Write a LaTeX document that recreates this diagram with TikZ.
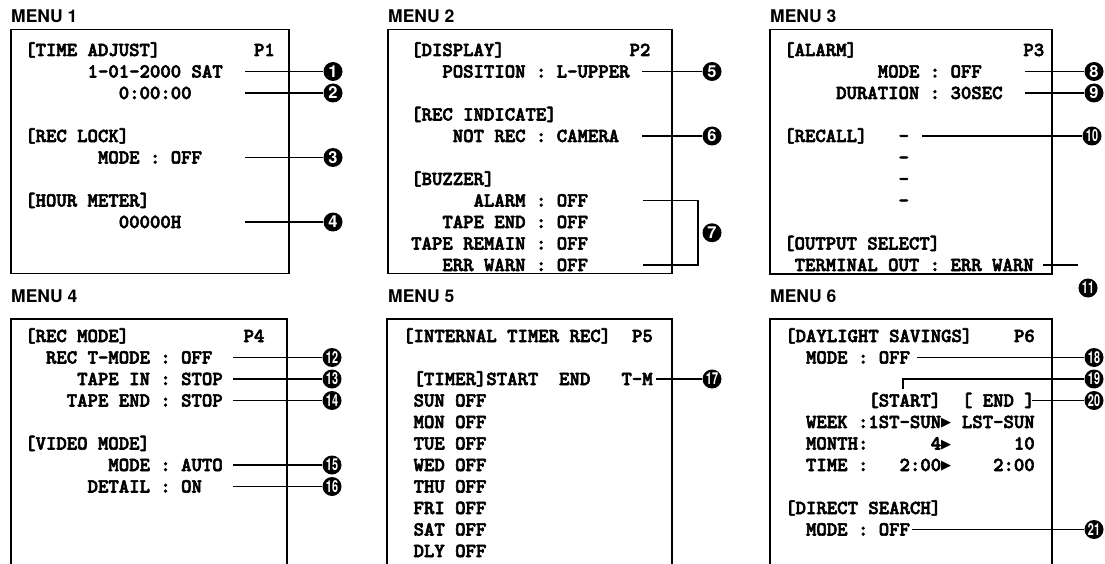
\documentclass[tikz,border=0pt]{standalone}
\usepackage{fontspec}
\newfontfamily\titlefont{TeX Gyre Heros}
\newfontfamily\symfont{DejaVu Sans}
\newfontfamily\osdface{lmmonolt10-bold.otf}[FakeBold=3]
\newcommand\osdfont{\osdface\fontsize{19.8}{20}\selectfont}
\newcommand\tri{\makebox[0.525em][l]{\raisebox{1.5pt}{\symfont\fontsize{13}{13}\selectfont ▶}}}
\newcommand\two[1]{\scalebox{0.66}[1]{#1}}
\tikzset{
  menutitle/.style={anchor=west,inner sep=0pt,font=\titlefont\bfseries\fontsize{17.5}{18}\selectfont},
  screen/.style={draw=black,line width=1.6pt},
  osd/.style={anchor=west,inner sep=0pt,text height=12pt,text depth=0pt,font=\osdfont},
  leader/.style={draw=black,line width=1.1pt},
  num/.style={circle,fill=black,text=white,inner sep=0pt,minimum size=19pt,font=\titlefont\bfseries\fontsize{16.5}{16.5}\selectfont}
}

\begin{document}
\begin{tikzpicture}[x=1pt,y=-1pt]
  \useasboundingbox (0,0) rectangle (1105,564);

  % MENU 1
  \node[menutitle] (m1) at (11,16) {MENU 1};
  \draw[screen] (11,29.5) rectangle (289,273.5);
  \node[osd] (timeadj) at (25,50) {[TIME ADJUST]};
  \node[osd] (p1) at (253.8,50) {P1};
  \node[osd] (date) at (87.4,71.5) {1-01-2000 SAT};
  \node[osd] (clock) at (118.6,93) {0:00:00};
  \node[osd] (reclock) at (25,136) {[REC LOCK]};
  \node[osd] (lockmode) at (97.8,157.5) {MODE : OFF};
  \node[osd] (hourmeter) at (25,200.5) {[HOUR METER]};
  \node[osd] (hours) at (118.6,222) {00000H};
  \node[num] (b1) at (333,71.5) {1};
  \node[num] (b2) at (333,93) {2};
  \node[num] (b3) at (333,157.5) {3};
  \node[num] (b4) at (333,222) {4};
  \coordinate (a1) at (245,71.5);
  \coordinate (a2) at (245,93);
  \coordinate (a3) at (245,157.5);
  \coordinate (a4) at (245,222);
  \draw[leader] (a1) -- (b1);
  \draw[leader] (a2) -- (b2);
  \draw[leader] (a3) -- (b3);
  \draw[leader] (a4) -- (b4);

  % MENU 2
  \node[menutitle] (m2) at (388,16) {MENU 2};
  \draw[screen] (388,29.5) rectangle (672,273.5);
  \node[osd] (display) at (411,50) {[DISPLAY]};
  \node[osd] (p2) at (629.4,50) {P2};
  \node[osd] (position) at (442.2,71.5) {POSITION : L-UPPER};
  \node[osd] (recind) at (411,114.5) {[REC INDICATE]};
  \node[osd] (notrec) at (452.6,136) {NOT REC : CAMERA};
  \node[osd] (buzzer) at (411,179) {[BUZZER]};
  \node[osd] (bzalarm) at (473.4,200.5) {ALARM : OFF};
  \node[osd] (bztapeend) at (442.2,222) {TAPE END : OFF};
  \node[osd] (bzremain) at (411,243.5) {TAPE REMAIN : OFF};
  \node[osd] (bzwarn) at (442.2,265) {ERR WARN : OFF};
  \node[num] (b5) at (712,71.5) {5};
  \node[num] (b6) at (712,136) {6};
  \node[num] (b7) at (712,232.75) {7};
  \coordinate (a5) at (642,71.5);
  \coordinate (a6) at (642,136);
  \coordinate (a7) at (643,200.5);
  \coordinate (a7b) at (643,265);
  \draw[leader] (a5) -- (b5);
  \draw[leader] (a6) -- (b6);
  \draw[leader] (a7) -- ++(55,0) |- (a7b);

  % MENU 3
  \node[menutitle] (m3) at (770,16) {MENU 3};
  \draw[screen] (770,29.5) rectangle (1052,274);
  \node[osd] (alarm) at (784,50) {[ALARM]};
  \node[osd] (p3) at (1023.2,50) {P3};
  \node[osd] (almode) at (877.6,71.5) {MODE : OFF};
  \node[osd] (duration) at (836,93) {DURATION : 30SEC};
  \node[osd] (recall) at (784,136) {[RECALL]};
  \node[osd] (rc1) at (898.4,136) {-};
  \node[osd] (rc2) at (898.4,157.5) {-};
  \node[osd] (rc3) at (898.4,179) {-};
  \node[osd] (rc4) at (898.4,200.5) {-};
  \node[osd] (outsel) at (784,243.5) {[OUTPUT SELECT]};
  \node[osd] (terminal) at (794.4,265) {TERMINAL OUT : ERR WARN};
  \node[num] (b8) at (1094,71.5) {8};
  \node[num] (b9) at (1094,93) {9};
  \node[num] (b10) at (1092,136) {\two{10}};
  \node[num] (b11) at (1088,288) {\two{11}};
  \coordinate (a8) at (1025,71.5);
  \coordinate (a9) at (1025,93);
  \coordinate (a10) at (922,136);
  \coordinate (a11) at (1043,265);
  \draw[leader] (a8) -- (b8);
  \draw[leader] (a9) -- (b9);
  \draw[leader] (a10) -- (b10);
  \draw[leader] (a11) -- (a11 -| b11.west);

  % MENU 4
  \node[menutitle] (m4) at (11,296) {MENU 4};
  \draw[screen] (11,564) |- (287,319) -- (287,564);
  \node[osd] (recmode) at (25,336) {[REC MODE]};
  \node[osd] (p4) at (243.4,336) {P4};
  \node[osd] (rectmode) at (45.8,357.5) {REC T-MODE : OFF};
  \node[osd] (tapein) at (77,379) {TAPE IN : STOP};
  \node[osd] (tapeend) at (66.6,400.5) {TAPE END : STOP};
  \node[osd] (videomode) at (25,443.5) {[VIDEO MODE]};
  \node[osd] (vmode) at (108.2,465) {MODE : AUTO};
  \node[osd] (detail) at (87.4,486.5) {DETAIL : ON};
  \node[num] (b12) at (332,357.5) {\two{12}};
  \node[num] (b13) at (332,379) {\two{13}};
  \node[num] (b14) at (332,400.5) {\two{14}};
  \node[num] (b15) at (332,465) {\two{15}};
  \node[num] (b16) at (332,486.5) {\two{16}};
  \coordinate (a12) at (233,357.5);
  \coordinate (a13) at (233,379);
  \coordinate (a14) at (233,400.5);
  \coordinate (a15) at (233,465);
  \coordinate (a16) at (233,486.5);
  \draw[leader] (a12) -- (b12);
  \draw[leader] (a13) -- (b13);
  \draw[leader] (a14) -- (b14);
  \draw[leader] (a15) -- (b15);
  \draw[leader] (a16) -- (b16);

  % MENU 5
  \node[menutitle] (m5) at (388,296) {MENU 5};
  \draw[screen] (387,564) |- (672,319) -- (672,564);
  \node[osd] (inttimer) at (403,336) {[INTERNAL TIMER REC]};
  \node[osd] (p5) at (631.8,336) {P5};
  \node[osd] (timerhead) at (413.4,379) {[TIMER]START~~END~~~T-M};
  \node[osd] (sun) at (413.4,400.5) {SUN OFF};
  \node[osd] (mon) at (413.4,422) {MON OFF};
  \node[osd] (tue) at (413.4,443.5) {TUE OFF};
  \node[osd] (wed) at (413.4,465) {WED OFF};
  \node[osd] (thu) at (413.4,486.5) {THU OFF};
  \node[osd] (fri) at (413.4,508) {FRI OFF};
  \node[osd] (sat) at (413.4,529.5) {SAT OFF};
  \node[osd] (dly) at (413.4,551) {DLY OFF};
  \node[num] (b17) at (712,379) {\two{17}};
  \coordinate (a17) at (656,379);
  \draw[leader] (a17) -- (b17);

  % MENU 6
  \node[menutitle] (m6) at (770,296) {MENU 6};
  \draw[screen] (770,564) |- (1052,319) -- (1052,564);
  \node[osd] (daylight) at (785,336) {[DAYLIGHT SAVINGS]};
  \node[osd] (p6) at (1013.8,336) {P6};
  \node[osd] (dsmode) at (805.8,357.5) {MODE : OFF};
  \node[osd] (startend) at (868.2,400.5) {[START]~~[~END~]};
  \node[osd] (week) at (805.8,422) {WEEK~:1ST-SUN\tri~LST-SUN};
  \node[osd] (month) at (805.8,443.5) {MONTH:~~~~~~4\tri~~~~~~10};
  \node[osd] (time) at (805.8,465) {TIME~:~~~2:00\tri~~~~2:00};
  \node[osd] (dirsearch) at (785,508) {[DIRECT SEARCH]};
  \node[osd] (dirmode) at (805.8,529.5) {MODE : OFF};
  \node[num] (b18) at (1094,357.5) {\two{18}};
  \node[num] (b19) at (1094,379) {\two{19}};
  \node[num] (b20) at (1094,400.5) {\two{20}};
  \node[num] (b21) at (1094,529.5) {\two{21}};
  \coordinate (a18) at (917,357.5);
  \coordinate (a19) at (903,389);
  \coordinate (a20) at (1032,400.5);
  \coordinate (a21) at (912,529.5);
  \draw[leader] (a18) -- (b18);
  \draw[leader] (a19) |- (b19);
  \draw[leader] (a20) -- (b20);
  \draw[leader] (a21) -- (b21);
\end{tikzpicture}
\end{document}
